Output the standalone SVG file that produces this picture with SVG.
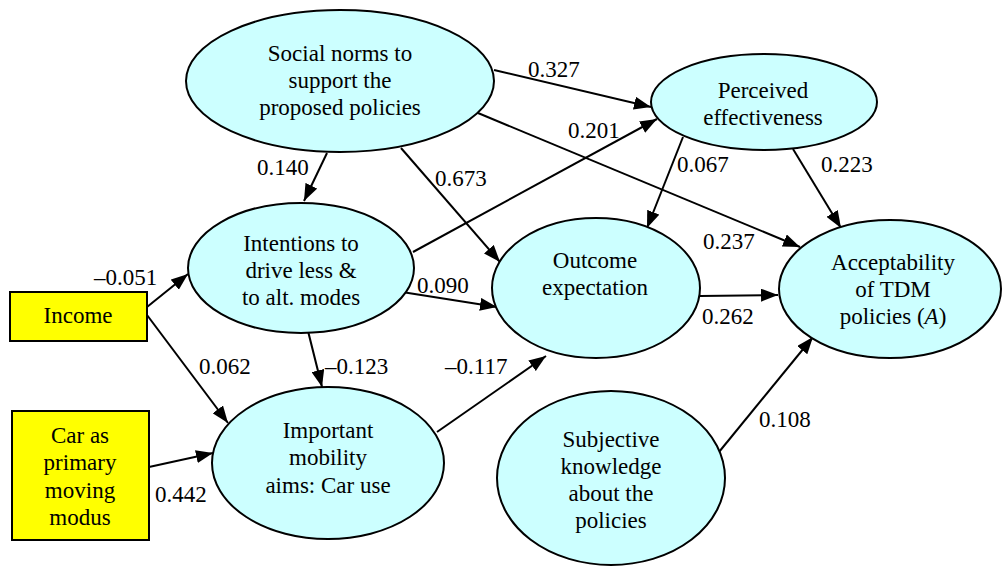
<svg xmlns="http://www.w3.org/2000/svg" width="1002" height="567" viewBox="0 0 1002 567">
  <style>
    .latent { fill: #CCFFFF; stroke: #000; stroke-width: 2; }
    .observed { fill: #FFFF00; stroke: #000; stroke-width: 2; }
    .c { text-anchor: middle; }
    .edge { stroke: #000; stroke-width: 2; fill: none; marker-end: url(#arrow); }
  </style>
  <defs>
    <marker id="arrow" viewBox="0 0 17 13" refX="17" refY="6.5" markerWidth="17" markerHeight="13" markerUnits="userSpaceOnUse" orient="auto">
      <path d="M0,0 L17,6.5 L0,13 Z" fill="#000"/>
    </marker>
  </defs>
  <rect width="1002" height="567" fill="#fff"/>

  <g font-family="Liberation Serif" font-size="23">
  <g id="connectors">
    <line class="edge" x1="494" y1="70" x2="651" y2="107"/>
    <line class="edge" x1="413" y1="252" x2="657" y2="119"/>
    <line class="edge" x1="478" y1="113" x2="800" y2="247"/>
    <line class="edge" x1="327" y1="153" x2="304" y2="201"/>
    <line class="edge" x1="401" y1="148" x2="500" y2="262"/>
    <line class="edge" x1="683" y1="137" x2="647" y2="228"/>
    <line class="edge" x1="793" y1="149" x2="841" y2="228"/>
    <line class="edge" x1="147" y1="307" x2="188" y2="274"/>
    <line class="edge" x1="147" y1="315" x2="228" y2="423"/>
    <line class="edge" x1="149" y1="467" x2="213" y2="453"/>
    <line class="edge" x1="308" y1="331" x2="322" y2="387"/>
    <line class="edge" x1="402" y1="292" x2="497" y2="307"/>
    <line class="edge" x1="437" y1="432" x2="546" y2="356"/>
    <line class="edge" x1="700" y1="296" x2="778" y2="295"/>
    <line class="edge" x1="719" y1="452" x2="813" y2="337"/>

    <text x="528" y="77">0.327</text>
    <text x="568" y="138">0.201</text>
    <text x="257" y="175">0.140</text>
    <text x="435" y="186">0.673</text>
    <text x="677" y="172">0.067</text>
    <text x="821" y="172">0.223</text>
    <text x="703" y="249">0.237</text>
    <text x="94" y="285">–0.051</text>
    <text x="417" y="293">0.090</text>
    <text x="199" y="374">0.062</text>
    <text x="325" y="374">–0.123</text>
    <text x="445" y="374">–0.117</text>
    <text x="155" y="502">0.442</text>
    <text x="702" y="324">0.262</text>
    <text x="759" y="427">0.108</text>
  </g>

  <g id="social-norms">
    <ellipse class="latent" cx="340" cy="81" rx="154" ry="71"/>
    <text class="c" x="340" y="61">Social norms to</text>
    <text class="c" x="340" y="88">support the</text>
    <text class="c" x="340" y="115">proposed policies</text>
  </g>

  <g id="perceived-effectiveness">
    <ellipse class="latent" cx="764" cy="102" rx="113" ry="48"/>
    <text class="c" x="763" y="98">Perceived</text>
    <text class="c" x="763" y="125">effectiveness</text>
  </g>

  <g id="intentions">
    <ellipse class="latent" cx="301" cy="268" rx="113" ry="65"/>
    <text class="c" x="301" y="251">Intentions to</text>
    <text class="c" x="301" y="278">drive less &amp;</text>
    <text class="c" x="301" y="305">to alt. modes</text>
  </g>

  <g id="outcome-expectation">
    <ellipse class="latent" cx="596" cy="288" rx="104" ry="70"/>
    <text class="c" x="595" y="268">Outcome</text>
    <text class="c" x="595" y="295">expectation</text>
  </g>

  <g id="acceptability">
    <ellipse class="latent" cx="890" cy="289" rx="111" ry="69"/>
    <text class="c" x="893" y="270">Acceptability</text>
    <text class="c" x="893" y="297">of TDM</text>
    <text class="c" x="893" y="324">policies (<tspan font-style="italic">A</tspan>)</text>
  </g>

  <g id="important-mobility">
    <ellipse class="latent" cx="328" cy="463" rx="116" ry="76"/>
    <text class="c" x="328" y="438">Important</text>
    <text class="c" x="328" y="465">mobility</text>
    <text class="c" x="328" y="493">aims: Car use</text>
  </g>

  <g id="subjective-knowledge">
    <ellipse class="latent" cx="611" cy="478" rx="114" ry="87"/>
    <text class="c" x="611" y="447">Subjective</text>
    <text class="c" x="611" y="474">knowledge</text>
    <text class="c" x="611" y="501">about the</text>
    <text class="c" x="611" y="528">policies</text>
  </g>

  <g id="income">
    <rect class="observed" x="10" y="292" width="137" height="49"/>
    <text class="c" x="78" y="323">Income</text>
  </g>

  <g id="car-primary">
    <rect class="observed" x="12" y="411" width="137" height="129"/>
    <text class="c" x="80" y="443">Car as</text>
    <text class="c" x="80" y="470">primary</text>
    <text class="c" x="80" y="498">moving</text>
    <text class="c" x="80" y="525">modus</text>
  </g>
  </g>
</svg>
